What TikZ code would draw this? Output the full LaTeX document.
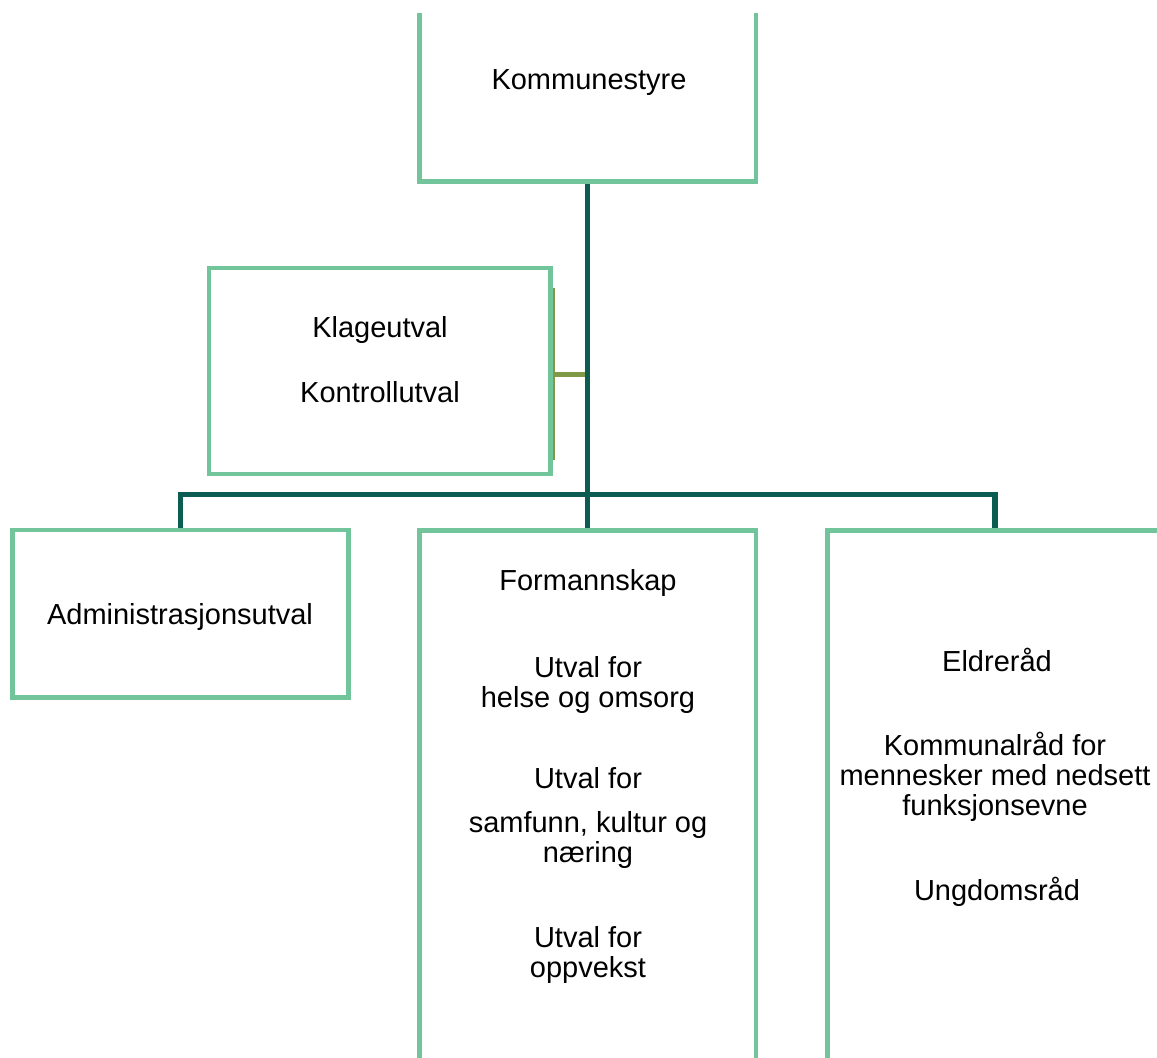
\documentclass[tikz,border=0pt]{standalone}
\usepackage{fontspec}
\setmainfont{Liberation Sans}
\usepackage{tikz}
\definecolor{boxgreen}{HTML}{72C59A}
\definecolor{linkteal}{HTML}{0B5D52}
\definecolor{linkolive}{HTML}{7E9A47}
\tikzset{
	orgbox/.style={draw=boxgreen, line width=2.8pt, minimum width=6.73cm, align=center, font=\fontsize{16.5}{17}\selectfont},
	orgtext/.style={align=center, font=\fontsize{16.5}{17}\selectfont},
	orglink/.style={draw=linkteal, line width=3.1pt},
	sidelink/.style={draw=linkolive, line width=2.8pt}
}

\begin{document}
\begin{tikzpicture}[x=0.02cm, y=-0.02cm]
		\useasboundingbox (0,0) rectangle (1157,1058);
		\clip (0,13) rectangle (1157,1058);

		\node[orgbox, minimum height=4.05cm] (komm) at (587.75,80) {};
		\node[orgbox, minimum width=6.83cm, minimum height=4.12cm] (klage) at (379.75,371) {};
		\node[orgbox, minimum width=6.72cm, minimum height=3.35cm] (admin) at (180.5,613.75) {};
		\node[orgbox, minimum height=11.4cm] (form) at (587.75,815) {};
		\node[orgbox, minimum width=6.72cm, minimum height=11.4cm] (rad) at (995,815) {};

		\node[orgtext] (kommtxt) at (589,83) {Kommunestyre};
		\node[orgtext] (klagetxt) at (380,360) {Klageutval\\[20pt]Kontrollutval};
		\node[orgtext] (admintxt) at (180,617) {Administrasjonsutval};

		\node[orgtext] (formtxt) at (588,583) {Formannskap};
		\node[orgtext] (helse) at (588,685) {Utval for\\helse og omsorg};
		\node[orgtext] (samfunn) at (588,818) {Utval for\\[8pt]samfunn, kultur og\\næring};
		\node[orgtext] (oppvekst) at (588,955) {Utval for\\oppvekst};

		\node[orgtext] (eldre) at (997,660) {Eldreråd};
		\node[orgtext] (funk) at (995,777) {Kommunalråd for\\mennesker med nedsett\\funksjonsevne};
		\node[orgtext] (ungdom) at (997,892) {Ungdomsråd};

		\coordinate (side) at (588,374.5);
		\coordinate (bus) at (588,494.5);

		\draw[sidelink] (side -| klage.east) -- (side);
		\draw[linkolive, line width=1.1pt] ([xshift=0.4pt]klage.east) ++(0,-83) -- ++(0,172);

		\draw[orglink] (komm.south) -- (form.north);
		\draw[orglink] (admin.north) |- (bus) -| (rad.north);
	\end{tikzpicture}
\end{document}
